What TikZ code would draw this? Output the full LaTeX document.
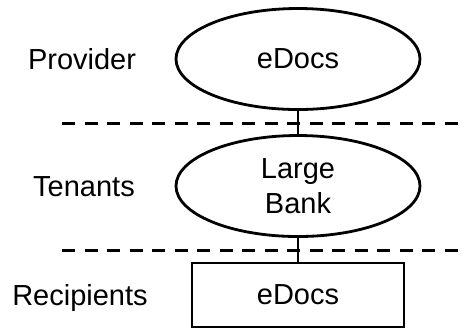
\documentclass[tikz,border=0pt]{standalone}
\usepackage{fontspec}
\setmainfont{Liberation Sans}
\usetikzlibrary{shapes.geometric}
\begin{document}
\begin{tikzpicture}[x=0.5pt,y=-0.5pt,
  every node/.style={font=\fontsize{14.5pt}{17.5pt}\selectfont},
  oval/.style={draw,line width=1.4pt,ellipse,inner sep=0pt,minimum width=122pt,minimum height=50.5pt,align=center},
  boxnode/.style={draw,line width=1.4pt,rectangle,inner sep=0pt,minimum width=106pt,minimum height=32pt},
  layer/.style={dashed,line width=1.5pt,dash pattern=on 6.5pt off 4.75pt},
  link/.style={line width=1.4pt},
  lbl/.style={anchor=center}]
\useasboundingbox (0,0) rectangle (464,329);
\node[oval] (prov) at (298,59) {eDocs};
\node[oval] (ten) at (298,186) {Large\\Bank};
\node[boxnode] (rec) at (298,295) {eDocs};
\node[lbl] (lp) at (82,59) {Provider};
\node[lbl] (lt) at (84,187) {Tenants};
\node[lbl] (lr) at (80,298) {Recipients};
\coordinate (d1a) at (62,123.5);
\coordinate (d1b) at (464,123.5);
\coordinate (d2a) at (62,250.5);
\coordinate (d2b) at (464,250.5);
\draw[layer] (d1a) -- (d1b);
\draw[layer] (d2a) -- (d2b);
\draw[link] (prov.south) -- (ten.north);
\draw[link] (ten.south) -- (rec.north);
\end{tikzpicture}
\end{document}
